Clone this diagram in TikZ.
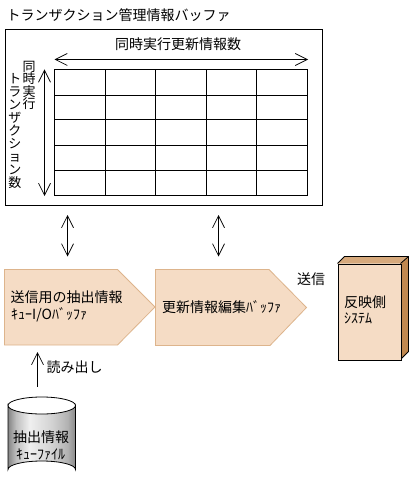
\documentclass[tikz,border=0pt]{standalone}
\usepackage{fontspec}
\usetikzlibrary{arrows.meta}
\setmainfont{Noto Sans CJK JP}
\definecolor{peach}{HTML}{F5DCC5}
\definecolor{peachline}{HTML}{DDB48C}
\definecolor{sidebrown}{HTML}{C08850}
\definecolor{topbrown}{HTML}{D6A97C}
\pgfdeclarehorizontalshading{cyl}{100bp}{color(0bp)=(black!48);color(25bp)=(black!48);color(31bp)=(black!25);color(41bp)=(black!6);color(58bp)=(black!18);color(69bp)=(black!30);color(75bp)=(black!46);color(100bp)=(black!46)}
\tikzset{
  lbl/.style={inner sep=0pt,font=\fontsize{14}{14}\selectfont},
  tiny/.style={inner sep=0pt,font=\fontsize{14}{14}\selectfont},
  vtext/.style={inner sep=0pt,align=center,font=\fontsize{13}{13}\selectfont},
  ln/.style={draw=black,line width=0.8pt},
  barb/.style={line width=0.8pt,{Straight Barb[length=12pt,width=12pt,line width=0.7pt]}-{Straight Barb[length=12pt,width=12pt,line width=0.7pt]}},
  barbend/.style={line width=0.8pt,-{Straight Barb[length=12pt,width=12pt,line width=0.7pt]}},
  pent/.style={fill=peach,draw=peachline,line width=0.8pt}
}
\begin{document}
\begin{tikzpicture}[x=1pt,y=-1pt]
\useasboundingbox (0,0) rectangle (411,486);
\node[lbl,anchor=west] (title) at (6.5,15) {トランザクション管理情報バッファ};
\node[ln,minimum width=317.5pt,minimum height=175.5pt,anchor=north west,inner sep=0pt] (outer) at (4.5,29.5) {};
\node[lbl] (hlabel) at (178,44) {同時実行更新情報数};
% grid
\draw[ln] (54.5,69.5) rectangle (307.5,195);
\foreach \x in {105.5,155.5,206,256} \draw[ln] (\x,69.5) -- (\x,195);
\foreach \y in {95.5,119,145.5,170.5} \draw[ln] (54.5,\y) -- (307.5,\y);
% dimension arrows
\coordinate (hl) at (54.5,59.5);
\coordinate (hr) at (308,59.5);
\draw[barb] (hl) -- (hr);
\coordinate (vt) at (44.5,69.5);
\coordinate (vb) at (44.5,196);
\draw[barb] (vt) -- (vb);
\node[vtext,anchor=north] (v1) at (29,61) {同\\[-0.5pt]時\\[-0.5pt]実\\[-0.5pt]行};
\node[vtext,anchor=north] (v2) at (15,73) {ト\\ラ\\ン\\ザ\\ク\\シ\\ョ\\ン\\数};
% pentagons
\path[pent] (4.5,269.5) -- (117.5,269.5) -- (155,307) -- (117.5,345) -- (4.5,345) -- cycle;
\path[pent] (155.5,269.5) -- (269,269.5) -- (306.5,307.5) -- (270,345.5) -- (155.5,345.5) -- cycle;
\coordinate (a1t) at (67.5,215);
\coordinate (a1b) at (67.5,256.5);
\draw[barb] (a1t) -- (a1b);
\coordinate (a2t) at (218.5,215);
\coordinate (a2b) at (218.5,256.5);
\draw[barb] (a2t) -- (a2b);
\node[lbl,anchor=west] (p1a) at (10.5,297) {送信用の抽出情報};
\node[tiny,anchor=west] (p1b) at (11,315) {ｷｭｰI/Oﾊﾞｯﾌｧ};
\node[lbl,anchor=west] (p2) at (162,307) {更新情報編集ﾊﾞｯﾌｧ};
\node[lbl,anchor=west] (send) at (297,279) {送信};
% 3D box
\fill[topbrown] (337.5,263.5) -- (344.5,256.5) -- (408.5,256.5) -- (400.5,263.5) -- cycle;
\fill[sidebrown] (400.5,263.5) -- (408.5,256.5) -- (408.5,351.5) -- (400.5,359.5) -- cycle;
\draw[ln,line join=round] (337.5,263.5) -- (344.5,256.5) -- (408.5,256.5) -- (408.5,351.5) -- (400.5,359.5);
\draw[ln] (400.5,263.5) -- (408.5,256.5);
\node[ln,fill=peach,minimum width=63pt,minimum height=96pt,anchor=north west,inner sep=0pt] (sysbox) at (337.5,263.5) {};
\node[lbl,anchor=west] (s1) at (344,302) {反映側};
\node[tiny,anchor=west] (s2) at (344,318) {ｼｽﾃﾑ};
% read arrow
\coordinate (rb) at (37.5,386.5);
\coordinate (rt) at (37.5,352);
\draw[barbend] (rb) -- (rt);
\node[lbl,anchor=west] (read) at (46.5,367) {読み出し};
% cylinder
\path[shading=cyl,draw=black,line width=0.8pt] (8,405.5) -- (8,469.5) arc[start angle=180,end angle=360,x radius=33.75,y radius=8.5] -- (75.5,405.5) arc[start angle=0,end angle=180,x radius=33.75,y radius=8.5] -- cycle;
\draw[ln] (8,405.5) arc[start angle=180,end angle=360,x radius=33.75,y radius=8.5];
\node[lbl,anchor=west] (c1) at (13,437) {抽出情報};
\node[tiny,anchor=west] (c2) at (16,454) {ｷｭｰﾌｧｲﾙ};
\end{tikzpicture}
\end{document}
